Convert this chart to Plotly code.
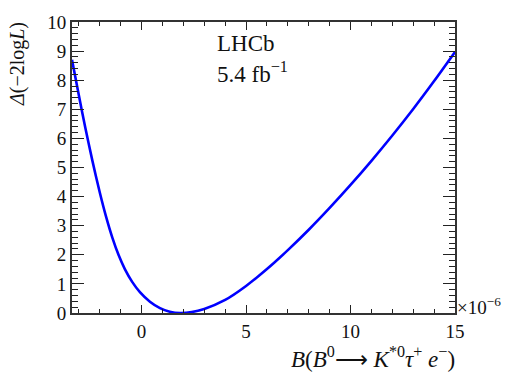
import plotly.graph_objects as go

# Branching fraction (units of 1e-6) and Delta(-2logL)
bf = [-3.33, -3.0, -2.7, -2.35, -2.0, -1.7, -1.4, -1.1, -0.8, -0.45, -0.08, 0.4,
      0.88, 1.35, 1.85, 2.4, 3.0, 4.0, 5.0, 6.0, 7.0, 8.0, 9.0, 10.0, 11.0, 12.0,
      13.0, 14.0, 15.0]
dnll = [8.70, 7.47, 6.39, 5.22, 4.14, 3.31, 2.59, 1.99, 1.51, 1.07, 0.72, 0.39,
        0.17, 0.045, 0.0, 0.033, 0.14, 0.45, 0.93, 1.51, 2.16, 2.86, 3.61, 4.40, 5.23, 6.10,
        7.01, 7.97, 8.97]

x_ticks = [0, 5, 10, 15]
y_ticks = list(range(0, 11))

FONT = "Liberation Serif"

fig = go.Figure()
fig.add_trace(go.Scatter(x=bf, y=dnll, mode="lines",
                         line=dict(color="#0000ff", width=2.6, shape="spline", smoothing=0.8),
                         showlegend=False, hoverinfo="skip"))

axis_common = dict(showline=True, linecolor="#333333", linewidth=2, mirror="ticks",
                   ticks="inside", tickcolor="#222222", tickwidth=1.3,
                   showgrid=False, zeroline=False,
                   tickfont=dict(family=FONT, size=19, color="#111111"))

fig.update_layout(
    width=518, height=374,
    margin=dict(l=72, r=63, t=18, b=61),
    paper_bgcolor="white", plot_bgcolor="white",
    xaxis=dict(range=[-3.33, 15], tickvals=x_ticks, ticktext=[str(v) for v in x_ticks],
               ticklen=8, minor=dict(dtick=1, tick0=0, ticklen=4, ticks="inside", tickcolor="#222222"),
               **axis_common),
    yaxis=dict(range=[0, 10], tickvals=y_ticks, ticktext=[str(v) for v in y_ticks],
               ticklen=12, minor=dict(dtick=0.2, tick0=0, ticklen=6, ticks="inside", tickcolor="#222222"),
               **axis_common),
)

annots = [
    dict(text="<i>B</i>(<i>B</i><sup>0</sup>⟶ <i>K</i><sup>*0</sup><i>τ</i><sup>+</sup> <i>e</i><sup>−</sup>)",
         xref="paper", yref="paper", x=1.005, y=0, xanchor="right", yanchor="top", yshift=-28,
         showarrow=False, font=dict(family=FONT, size=23, color="#111111")),
    dict(text="<i>Δ</i>(−2log<i>L</i>)", textangle=-90,
         xref="paper", yref="paper", x=0, y=1, xanchor="center", yanchor="top", xshift=-55, yshift=2,
         showarrow=False, font=dict(family=FONT, size=20, color="#111111")),
    dict(text="×10<sup>−6</sup>", xref="paper", yref="paper", x=1, y=0, xanchor="left", yanchor="middle",
         xshift=0, yshift=7, showarrow=False, font=dict(family=FONT, size=19, color="#111111")),
    dict(text="LHCb", xref="paper", yref="paper", x=0.373, y=0.927, xanchor="left", yanchor="middle",
         showarrow=False, font=dict(family=FONT, size=23, color="#111111")),
    dict(text="5.4 fb<sup>−1</sup>", xref="paper", yref="paper", x=0.373, y=0.825, xanchor="left", yanchor="middle",
         showarrow=False, font=dict(family=FONT, size=23, color="#111111")),
]
fig.update_layout(annotations=annots)

fig.write_html("out.html", config={"displayModeBar": False},
               post_script="document.body.style.margin='0';document.body.style.overflow='hidden';")
